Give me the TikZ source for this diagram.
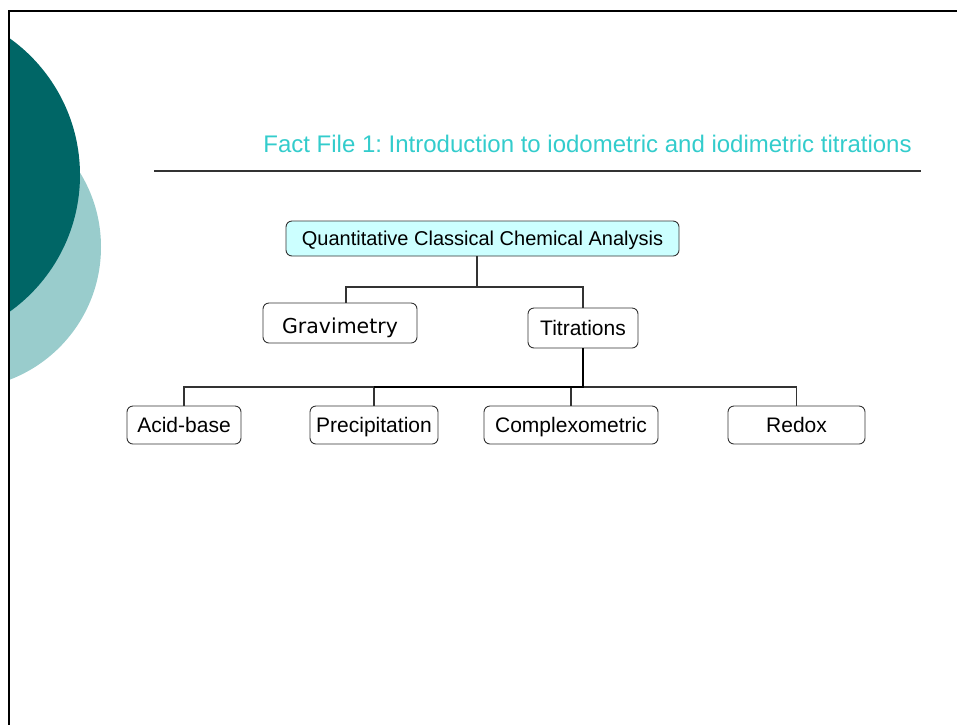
\documentclass[tikz,border=0pt]{standalone}
\usepackage{fontspec}
\setmainfont{Liberation Sans}
\newfontfamily\verd{DejaVu Sans}
\usetikzlibrary{calc}
\definecolor{tealdark}{HTML}{006666}
\definecolor{teallight}{HTML}{99CCCC}
\definecolor{titlecol}{HTML}{33CCCC}
\definecolor{boxfill}{HTML}{CCFFFF}
\definecolor{edge}{HTML}{333333}
\tikzset{
  box/.style={draw=edge, line width=0.9pt, rounded corners=6pt, fill=white,
    inner sep=0pt, minimum height=40pt, text height=15pt, text depth=0pt,
    font=\fontsize{21}{24}\selectfont},
  link/.style={draw=edge, line width=1.1pt},
  trunk/.style={draw=black, line width=2.2pt},
}
\begin{document}
\frenchspacing
\begin{tikzpicture}[x=1pt, y=-1pt]
  \useasboundingbox (0,0) rectangle (957,724);
  % background discs, clipped to the framed area
  \begin{scope}
    \clip (9,11) rectangle (957,724);
    \fill[teallight] (-41,247) circle (142);
    \fill[tealdark] (-88,175) circle (168);
  \end{scope}
  % frame
  \draw[line width=2.6pt, line cap=rect] (9,724) -- (9,11) -- (957,11);
  % heading and rule
  \node[anchor=base, text=titlecol, inner sep=0pt,
        font=\fontsize{24}{28}\selectfont] (title) at (587.5,152)
    {Fact File 1: Introduction to iodometric and iodimetric titrations};
  \coordinate (r1) at (154,171);
  \coordinate (r2) at (921,171);
  \draw[edge, line width=1.3pt] (r1) -- (r2);
  % tree nodes
  \node[box, fill=boxfill, minimum width=393pt, minimum height=35pt,
        text height=14.3pt, font=\fontsize{20}{24}\selectfont] (qcca) at (482.5,238.5)
    {Quantitative Classical Chemical Analysis};
  \node[box, minimum width=154pt, font=\verd\fontsize{20.5}{24}\selectfont]
    (grav) at (340,323) {\raisebox{-2.5pt}{Gravimetry}};
  \node[box, minimum width=110pt] (titr) at (583,328) {Titrations};
  \node[box, minimum width=114pt, minimum height=38pt] (acid) at (184,425) {Acid-base};
  \node[box, minimum width=128pt, minimum height=38pt] (prec) at (374,425) {Precipitation};
  \node[box, minimum width=174pt, minimum height=38pt] (comp) at (571,425) {Complexometric};
  \node[box, minimum width=137pt, minimum height=38pt] (redox) at (796.5,425) {Redox};
  % connectors
  \coordinate (j1) at (477,287);
  \coordinate (j2) at (583,387);
  \draw[link] (qcca.south -| j1) -- (j1);
  \draw[link] ([xshift=6pt]grav.north) |- (j1) -| (titr.north);
  \draw[link] (acid.north) |- (redox.north |- j2) -- (redox.north);
  \draw[link] (prec.north) -- (prec.north |- j2);
  \draw[link] (comp.north) -- (comp.north |- j2);
  \draw[trunk] (titr.south) -- (j2) -- (prec.north |- j2);
\end{tikzpicture}
\end{document}
